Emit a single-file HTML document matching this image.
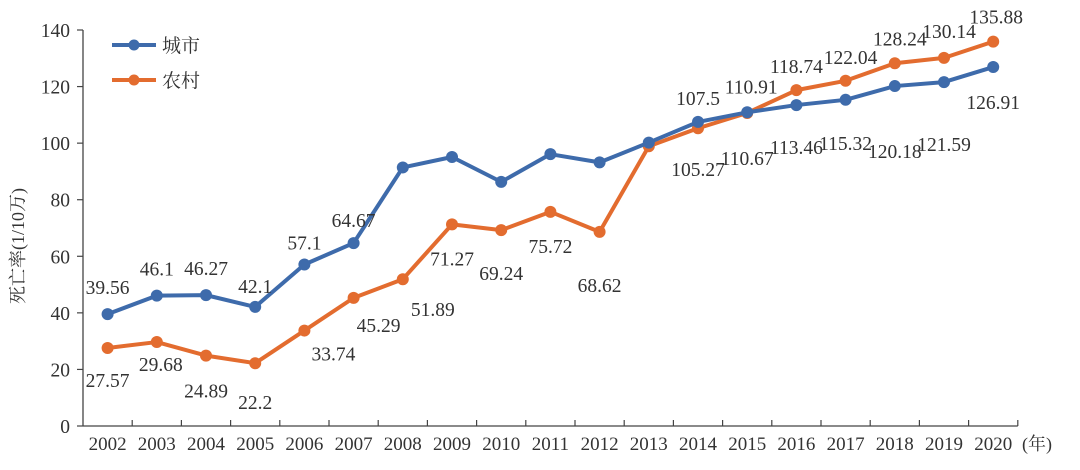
<!DOCTYPE html>
<html><head><meta charset="utf-8">
<style>
body{margin:0;background:#fff;}
svg{display:block;font-family:"Liberation Serif","Noto Serif CJK SC",serif;}
</style></head>
<body>
<svg id="chart" width="1080" height="470" viewBox="0 0 1080 470">
<rect x="0" y="0" width="1080" height="470" fill="#fff"/>
<g id="axes"></g>
<g id="series"></g>
<g id="legend">
  <line x1="112" y1="45" x2="156" y2="45" stroke="#3e6bab" stroke-width="4"/>
  <circle cx="134" cy="45" r="5.5" fill="#3e6bab"/>
  <text x="162" y="52" font-size="19" fill="#333">城市</text>
  <line x1="112" y1="80" x2="156" y2="80" stroke="#e36c2f" stroke-width="4"/>
  <circle cx="134" cy="80" r="5.5" fill="#e36c2f"/>
  <text x="162" y="87" font-size="19" fill="#333">农村</text>
</g>
<text transform="translate(24,246) rotate(-90)" text-anchor="middle" font-size="18" fill="#333">死亡率(1/10万)</text>
<text x="1022" y="450" font-size="18" fill="#333">(年)</text>
</svg>
<script>
const years = [2002,2003,2004,2005,2006,2007,2008,2009,2010,2011,2012,2013,2014,2015,2016,2017,2018,2019,2020];
const urban = [39.56,46.1,46.27,42.1,57.1,64.67,91.41,95.1,86.3,96.1,93.2,100.2,107.5,110.91,113.46,115.32,120.18,121.59,126.91];
const rural = [27.57,29.68,24.89,22.2,33.74,45.29,51.89,71.27,69.24,75.72,68.62,98.9,105.27,110.67,118.74,122.04,128.24,130.14,135.88];
const urbanLabels = ["39.56","46.1","46.27","42.1","57.1","64.67","","","","","","","107.5","110.91","113.46","115.32","120.18","121.59","126.91"];
const ruralLabels = ["27.57","29.68","24.89","22.2","33.74","45.29","51.89","71.27","69.24","75.72","68.62","","105.27","110.67","118.74","122.04","128.24","130.14","135.88"];
const yTicks = [0,20,40,60,80,100,120,140];
// label offsets (style, px)
const urbanOff = [[0,-20],[0,-20],[0,-20],[0,-14],[0,-15],[0,-16],[0,0],[0,0],[0,0],[0,0],[0,0],[0,0],[0,-17],[4,-19],[0,49],[0,50],[0,72],[0,69],[0,42]];
const ruralOff = [[0,39],[4,29],[0,42],[0,46],[29,30],[25,34],[30,37],[0,41],[0,50],[0,41],[0,60],[0,0],[0,48],[0,52],[0,-17],[5,-17],[5,-18],[5,-20],[3,-18]];

const NS="http://www.w3.org/2000/svg";
const X0=83, bandW=49.2, Y0=426, Y1=30, yMax=140;
const xs=i=>X0+bandW*(i+0.5);
const ys=v=>Y0-(v/yMax)*(Y0-Y1);
function mk(tag,attrs,parent){const e=document.createElementNS(NS,tag);for(const k in attrs)e.setAttribute(k,attrs[k]);parent.appendChild(e);return e;}
const axes=document.getElementById('axes'), series=document.getElementById('series');

const yAxis=mk('line',{x1:X0,y1:Y1,x2:X0,y2:Y0,stroke:'#444','stroke-width':1.3},axes);


const xAxis=mk('line',{x1:X0,y1:Y0,x2:X0+bandW*years.length,y2:Y0,stroke:'#444','stroke-width':1.3},axes);


yTicks.forEach(t=>{
  mk('line',{x1:X0-6,y1:ys(t),x2:X0,y2:ys(t),stroke:'#444','stroke-width':1.2},axes);
  const tx=mk('text',{x:X0-13,y:ys(t)+7,'text-anchor':'end','font-size':19.5,fill:'#333'},axes);
  tx.textContent=t;
  
  
});
years.forEach((yr,i)=>{
  mk('line',{x1:X0+bandW*(i+1),y1:Y0-6,x2:X0+bandW*(i+1),y2:Y0,stroke:'#444','stroke-width':1.2},axes);
  const tx=mk('text',{x:xs(i),y:450,'text-anchor':'middle','font-size':19,fill:'#333'},axes);
  tx.textContent=yr;
  
  
});

function drawSeries(vals,labels,off,color,name){
  const g=mk('g',{},series);
  
  
  const pl=mk('polyline',{points:vals.map((v,i)=>xs(i)+','+ys(v)).join(' '),fill:'none',stroke:color,'stroke-width':4,'stroke-linejoin':'round'},g);
  
  
  vals.forEach((v,i)=>{
    const c=mk('circle',{cx:xs(i),cy:ys(v),r:6,fill:color},g);
    
    
  });
  labels.forEach((l,i)=>{
    if(!l)return;
    const t=mk('text',{x:xs(i)+off[i][0],y:ys(vals[i])+off[i][1],'text-anchor':'middle','font-size':19.5,fill:'#333'},g);
    t.textContent=l;
    
    
  });
}
drawSeries(rural,ruralLabels,ruralOff,'#e36c2f','rural');
drawSeries(urban,urbanLabels,urbanOff,'#3e6bab','urban');
</script>
</body></html>
